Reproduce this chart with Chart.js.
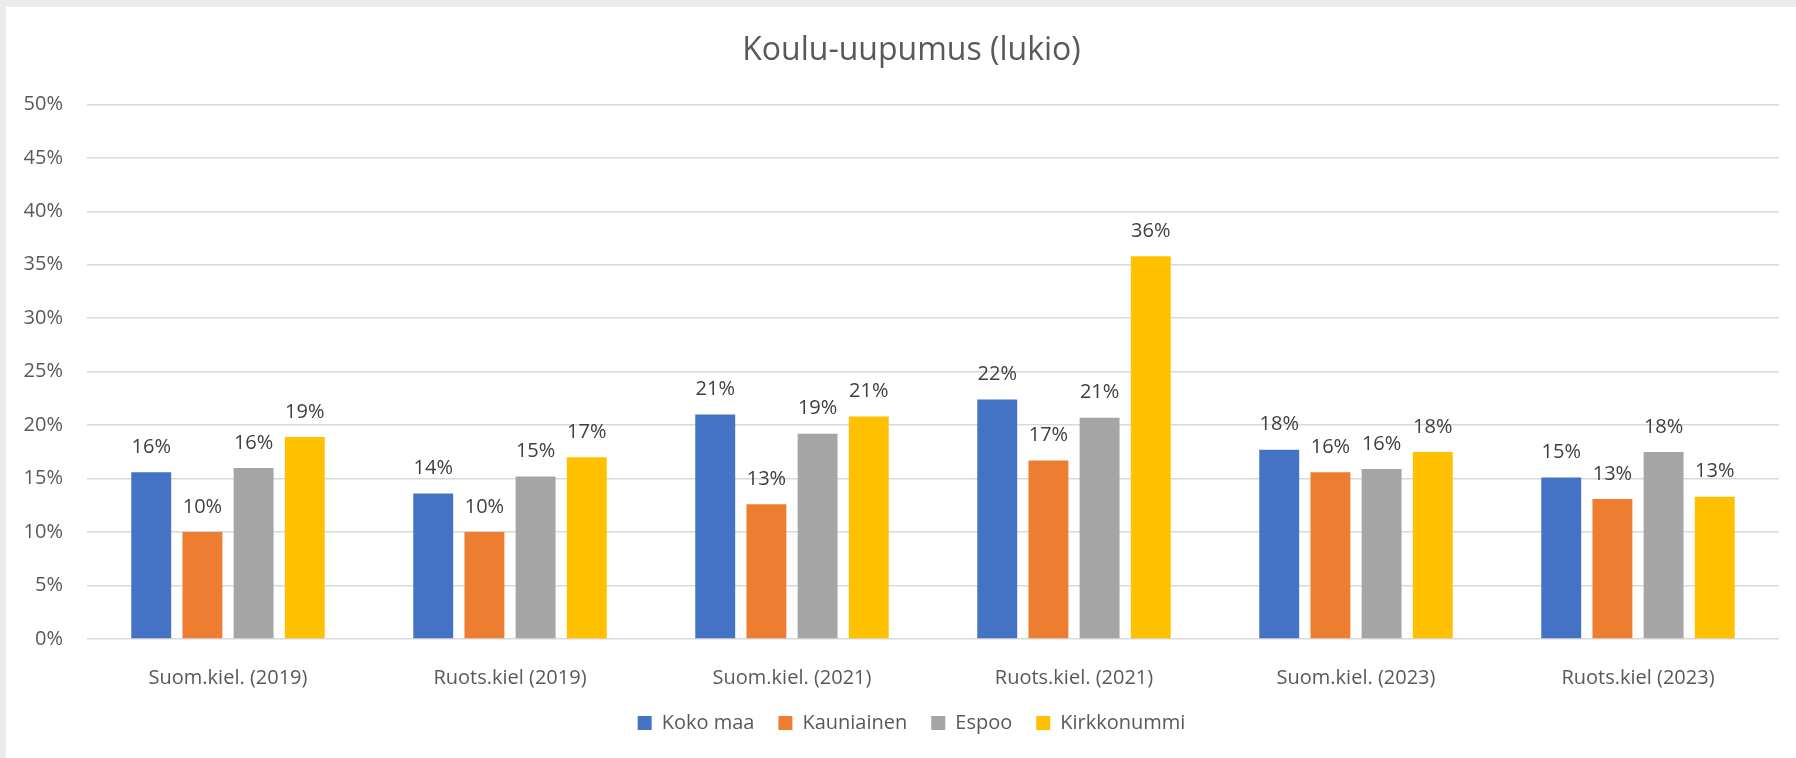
<!DOCTYPE html>
<html>
<head>
<meta charset="utf-8">
<script src="https://cdn.jsdelivr.net/npm/chart.js@4/dist/chart.umd.min.js"></script>
<style>
  html, body { margin: 0; padding: 0; background: #ebebeb; overflow: hidden; }
  #wrap { position: absolute; left: 6px; top: 7px; width: 1790px; height: 751px; background: #fff; }
</style>
</head>
<body>
<div id="wrap"><canvas id="chart" width="1790" height="751"></canvas></div>
<script>
// categories and series (values in percent)
const categories = ['Suom.kiel. (2019)', 'Ruots.kiel (2019)', 'Suom.kiel. (2021)', 'Ruots.kiel. (2021)', 'Suom.kiel. (2023)', 'Ruots.kiel (2023)'];
const kokoMaa     = [15.6, 13.6, 21.0, 22.4, 17.7, 15.1];
const kauniainen  = [10.0, 10.0, 12.6, 16.7, 15.6, 13.1];
const espoo       = [16.0, 15.2, 19.2, 20.7, 15.9, 17.5];
const kirkkonummi = [18.9, 17.0, 20.8, 35.8, 17.5, 13.3];
const yTicks = [0, 5, 10, 15, 20, 25, 30, 35, 40, 45, 50];

const FONT = "'Open Sans', sans-serif";

// draws the value labels above each bar
const barLabels = {
    id: 'barLabels',
    afterLayout(chart) {
        // let the y labels use the space left of the padding (so they are not clipped)
        chart.scales.y.left = 0;
    },
    afterDatasetsDraw(chart) {
        const ctx = chart.ctx;
        ctx.save();
        ctx.font = '20px ' + FONT;
        ctx.fillStyle = '#404040';
        ctx.textAlign = 'center';
        ctx.textBaseline = 'middle';
        chart.data.datasets.forEach((ds, i) => {
            chart.getDatasetMeta(i).data.forEach((bar, j) => {
                ctx.fillText(Math.round(ds.data[j]) + '%', bar.x, bar.y - 25);
            });
        });
        ctx.restore();
    }
};

const ctx = document.getElementById('chart').getContext('2d');
const chart = new Chart(ctx, {
    type: 'bar',
    data: {
        labels: categories,
        datasets: [
            { label: 'Koko maa', data: kokoMaa, backgroundColor: '#4472C4' },
            { label: 'Kauniainen', data: kauniainen, backgroundColor: '#ED7D31' },
            { label: 'Espoo', data: espoo, backgroundColor: '#A5A5A5' },
            { label: 'Kirkkonummi', data: kirkkonummi, backgroundColor: '#FFC000' }
        ]
    },
    options: {
        responsive: false,
        animation: false,
        categoryPercentage: 0.726,
        barPercentage: 0.78,
        layout: { padding: { left: 38, right: 17, top: 0, bottom: 15 } },
        plugins: {
            title: {
                display: true,
                text: 'Koulu-uupumus (lukio)',
                color: '#595959',
                font: { family: FONT, size: 32, weight: 'normal' },
                padding: { top: 25, bottom: 34 }
            },
            legend: {
                position: 'bottom',
                labels: {
                    color: '#595959',
                    font: { family: FONT, size: 20 },
                    boxWidth: 14,
                    boxHeight: 14,
                    padding: 24
                }
            },
            tooltip: { enabled: false }
        },
        scales: {
            x: {
                grid: { display: false },
                border: { display: false },
                ticks: { color: '#595959', font: { family: FONT, size: 20 }, padding: 19, maxRotation: 0 },
                afterFit(scale) { scale.height = 50; }
            },
            y: {
                min: 0,
                max: 50,
                afterBuildTicks(scale) { scale.ticks = yTicks.map(v => ({ value: v })); },
                grid: { color: '#d9d9d9', lineWidth: 1.5, drawTicks: false },
                border: { display: false },
                ticks: {
                    color: '#595959',
                    font: { family: FONT, size: 20 },
                    padding: 24,
                    callback: v => v + '%'
                },
                afterFit(scale) { scale.width = 43; }
            }
        }
    },
    plugins: [barLabels]
});
</script>
</body>
</html>
